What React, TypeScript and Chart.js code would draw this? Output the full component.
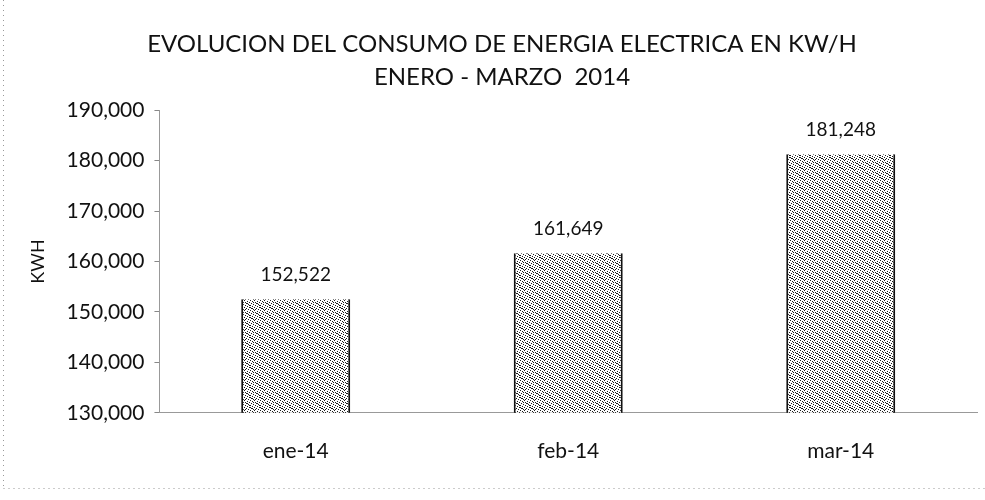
import React, { useEffect, useRef } from "react";
import { Chart, registerables } from "chart.js";

Chart.register(...registerables);

const categories = ["ene-14", "feb-14", "mar-14"];
const consumo = [152522, 161649, 181248];
const titleLines = ["EVOLUCION DEL CONSUMO DE ENERGIA ELECTRICA EN KW/H", "ENERO - MARZO  2014"];
const yAxisTitle = "KWH";
const yMin = 130000;
const yMax = 190000;
const yStep = 10000;

const FONT = "Lato, 'Open Sans', sans-serif";

function makePattern(): CanvasPattern | string {
  const c = document.createElement("canvas");
  c.width = 10;
  c.height = 10;
  const g = c.getContext("2d");
  if (!g) return "#b0b0b0";
  g.fillStyle = "#ffffff";
  g.fillRect(0, 0, 10, 10);
  g.fillStyle = "#1a1a1a";
  const dots = [
    [0, 0], [4, 0], [7, 1], [2, 1], [9, 2], [5, 2], [1, 3], [6, 3], [3, 4], [8, 4],
    [0, 5], [5, 5], [2, 6], [7, 6], [9, 7], [4, 7], [1, 8], [6, 8], [3, 9], [8, 9],
    [7, 3], [2, 8], [5, 9], [0, 7], [9, 5], [3, 2],
  ];
  dots.forEach(([x, y]) => g.fillRect(x, y, 1, 1));
  const p = g.createPattern(c, "repeat");
  return p || "#b0b0b0";
}

const fmt = (v: number) => v.toLocaleString("en-US");

const labelPlugin = {
  id: "barLabels",
  afterDatasetsDraw(chart: any) {
    const ctx = chart.ctx;
    const meta = chart.getDatasetMeta(0);
    ctx.save();
    ctx.font = `19px ${FONT}`;
    ctx.fillStyle = "#111";
    ctx.textAlign = "center";
    ctx.textBaseline = "middle";
    meta.data.forEach((bar: any, i: number) => {
      ctx.fillText(fmt(consumo[i]), bar.x, bar.y - 24);
    });
    ctx.restore();
  },
};

const framePlugin = {
  id: "frame",
  afterDraw(chart: any) {
    const ctx = chart.ctx;
    ctx.save();
    ctx.strokeStyle = "#999";
    ctx.lineWidth = 1;
    ctx.setLineDash([1, 4]);
    ctx.beginPath();
    ctx.moveTo(3.5, 0);
    ctx.lineTo(3.5, 488);
    ctx.moveTo(3.5, 488.5);
    ctx.lineTo(chart.width, 488.5);
    ctx.stroke();
    ctx.restore();
  },
};

export default function App() {
  const ref = useRef<HTMLCanvasElement | null>(null);
  useEffect(() => {
    if (!ref.current) return;
    const pattern = makePattern();
    const chart = new Chart(ref.current, {
      type: "bar",
      data: {
        labels: categories,
        datasets: [
          {
            data: consumo,
            backgroundColor: pattern as any,
            borderColor: "#111",
            borderWidth: { left: 2, right: 2, bottom: 2, top: 0 } as any,
            borderSkipped: false,
            categoryPercentage: 1,
            barPercentage: 0.4,
          },
        ],
      },
      options: {
        animation: false,
        responsive: false,
        maintainAspectRatio: false,
        layout: { padding: { left: 27, right: 8, top: 0, bottom: 18 } },
        plugins: {
          legend: { display: false },
          tooltip: { enabled: false },
          title: {
            display: true,
            text: titleLines,
            color: "#111",
            font: { family: FONT, size: 24, weight: "normal" as any, lineHeight: 1.38 },
            padding: { top: 28, bottom: 16 },
          },
        },
        scales: {
          x: {
            grid: { display: false },
            border: { display: true, color: "#999", dash: [1, 4] },
            ticks: { color: "#111", font: { family: FONT, size: 21 }, padding: 18 },
          },
          y: {
            min: yMin,
            max: yMax,
            ticks: {
              stepSize: yStep,
              color: "#111",
              font: { family: FONT, size: 21 },
              padding: 10,
              callback: (v: any) => fmt(Number(v)),
            },
            grid: { drawOnChartArea: false, drawTicks: true, tickLength: 5, color: "#888" },
            border: { display: true, color: "#999", dash: [1, 4] },
            title: {
              display: true,
              text: yAxisTitle,
              color: "#111",
              font: { family: FONT, size: 18 },
              padding: { top: 0, bottom: 8 },
            },
          },
        },
      },
      plugins: [labelPlugin, framePlugin],
    });
    return () => chart.destroy();
  }, []);
  return (
    <div style={{ position: "absolute", left: 0, top: 0, width: 985, height: 500, background: "#fff" }}>
      <canvas ref={ref} width={985} height={500} style={{ width: 985, height: 500 }} />
    </div>
  );
}
